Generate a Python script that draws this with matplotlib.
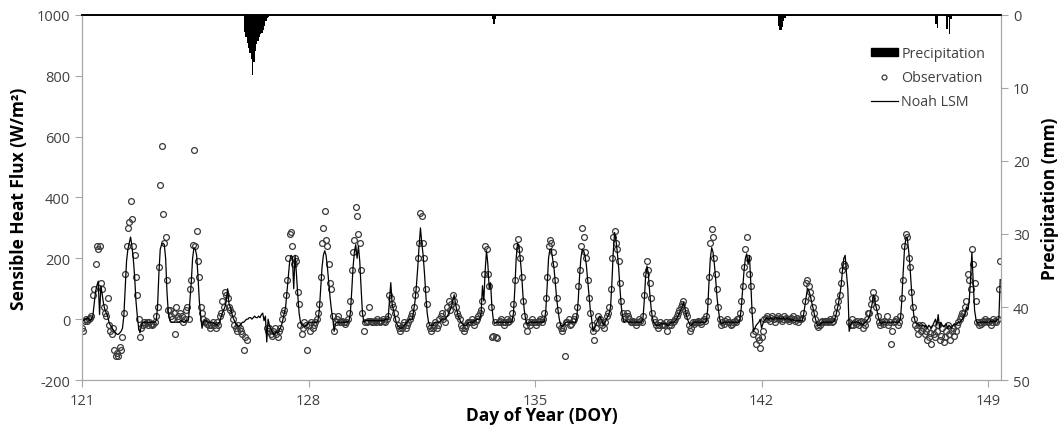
import matplotlib.pyplot as plt
import numpy as np
from matplotlib.lines import Line2D
from matplotlib.patches import Patch

plt.rcParams['font.family'] = ['Open Sans', 'DejaVu Sans']
plt.rcParams['axes.unicode_minus'] = False

nan = np.nan
start_doy = 121

# Noah LSM sensible heat flux (W/m2), hourly, one row per day starting DOY 121
noah_lsm = [
    -5, -5, 0, 0, 5, 0, -5, 0, 10, 50, 90, 110, 125, 15, 110, 80, 50, 30, 20, 10, -10, -20, -25, -35,
    -40, -45, -50, -50, -45, -40, -30, 10, 100, 190, 230, 250, 270, 240, 200, 140, 60, 10, -30, -45, -20, -10, -10, -10,
    -10, -10, -10, -10, -10, -10, -10, -5, 40, 150, 230, 245, 250, 245, 200, 90, 20, 0, -10, -10, -10, -10, -10, -10,
    -10, -5, -5, -10, -10, -5, -5, 0, 60, 120, 200, 235, 230, 210, 140, 60, 10, -30, -10, -5, -5, -10, -10, -10,
    -10, -10, -15, -15, -20, -15, -10, 5, 20, 30, 40, 60, 100, 50, 40, 20, 5, -5, -15, -20, -25, -20, -15, -10,
    -10, -5, 0, 0, 5, 5, 0, 5, 10, 5, 5, 10, 5, 15, 20, -5, 10, -75, 0, -20, -30, -40, -50, -50,
    -40, -45, -40, -30, -20, 0, 20, 40, 90, 140, 190, 210, 205, 100, 210, 150, 80, 20, -10, -20, -20, -25, -20, -20,
    -10, -10, -10, -10, -10, -10, -10, -5, 30, 100, 170, 210, 225, 210, 170, 120, 70, 30, 0, -40, -15, -10, -10, -10,
    -10, -10, -10, -10, -10, -10, -5, 20, 90, 170, 220, 245, 200, 240, 190, 100, 20, -10, -5, -5, -5, -5, -5, -5,
    -5, -5, -5, -5, -5, -5, -5, -5, -5, 0, 0, 0, 60, 120, 50, 30, 10, -10, -20, -25, -30, -30, -25, -20,
    -15, -10, -5, 0, 0, 0, 30, 60, 110, 170, 240, 300, 250, 210, 150, 80, 20, -10, -20, -20, -20, -15, -10, -10,
    -10, -10, -5, 0, 0, 0, 5, 10, 20, 30, 40, 60, 80, 50, 30, 10, 0, -10, -15, -20, -20, -20, -15, -10,
    -10, -10, -10, -5, -5, 0, 0, 0, 20, 110, 60, 160, 225, 180, 100, 120, 40, 0, -15, -10, -10, -10, -10, -10,
    -10, -10, -10, -10, -10, -10, -10, -5, 20, 100, 200, 250, 240, 200, 150, 80, 30, 0, -15, -15, -10, -10, -10, -10,
    -10, -10, -10, -10, -10, -10, -10, -5, 30, 110, 200, 230, 230, 200, 170, 120, 70, 30, 0, -20, -25, -20, -15, -10,
    -10, -10, -10, -10, -10, -10, -10, 10, 60, 140, 200, 230, 225, 210, 180, 130, 80, 30, 0, -40, -30, -20, -10, 0,
    10, 0, -10, -20, -10, 0, 10, 20, 40, 120, 220, 285, 260, 220, 170, 100, 40, 5, -10, -5, -5, -10, -10, -10,
    -10, -10, -10, -10, -10, -10, -10, -10, 0, 60, 140, 175, 150, 90, 40, 5, -10, -15, -20, -20, -20, -15, -15, -15,
    -15, -15, -20, -20, -15, -10, -10, -10, -5, 0, 10, 20, 30, 40, 55, 40, 20, 0, -10, -20, -20, -15, -10, -10,
    -10, -10, -10, -10, -10, -10, -10, -5, 30, 120, 200, 235, 220, 180, 130, 70, 30, 0, -15, -15, -10, -10, -10, -10,
    -10, -10, -10, -10, -10, -10, -10, -10, 0, 40, 100, 160, 200, 215, 180, 210, 120, 20, -40, -30, -20, -15, -10, 0,
    -30, -15, -5, 0, 5, 0, 0, 5, 0, 0, 5, 5, 0, 5, 0, 0, 5, 0, 0, 5, 0, 0, -5, 0,
    -5, -5, -5, -5, -5, -5, -5, 10, 40, 70, 100, 95, 80, 60, 40, 20, 0, -15, -20, -20, -15, -10, -10, -10,
    -10, -10, -10, -10, -10, -10, -5, 10, 30, 50, 80, 110, 160, 200, 210, 150, 100, -40, -20, -10, -10, -10, -10, -10,
    -10, -15, -15, -20, -15, -10, -5, 0, 10, 30, 50, 80, 60, 40, 20, 0, -10, -15, -10, -10, -10, -10, -10, -10,
    -10, -10, -10, -10, -10, -10, -10, 0, 60, 150, 230, 265, 270, 230, 180, 110, 50, 10, -10, -15, -15, -20, -20, -20,
    -20, -25, -20, -30, -20, -25, -30, -20, -10, 0, -20, 15, -30, -10, -20, -25, -20, -15, -30, -20, -25, -30, -20, -15,
    -20, -15, -10, -10, -5, 0, 10, 20, 40, 30, 60, 130, 220, 120, 30, 0, -15, -10, -10, -10, -10, -10, -10, -10,
    -10, -10, -5, -10, -5, -10, -5, 0, 0, 130,
]

# Observed sensible heat flux (W/m2), hourly, same time steps
observation = [
    -30, -40, -5, 0, -5, 0, 5, 10, 80, 100, 180, 240, 230, 240, 120, 100, 40, 20, 10, 70, -20, -40, -50, -30,
    -100, -120, -110, -120, -90, -100, -60, 20, 150, 240, 300, 320, 390, 330, 240, 210, 140, 80, 0, -60, -30, -20, -10, -15,
    -10, -20, -10, -15, -20, -15, -10, 10, 40, 170, 440, 570, 345, 250, 270, 130, 30, 30, 10, 0, 20, -50, 40, 10,
    0, 20, 10, -10, 0, 30, 40, 0, 100, 130, 245, 555, 240, 290, 190, 140, 40, 20, 0, -10, -5, -15, -20, -30,
    -20, -10, -20, -30, -10, -20, 10, 20, 60, 40, 90, 80, 70, 40, 30, 20, 0, -20, -30, -40, -20, -30, -40, -50,
    -100, -60, -70, nan, nan, nan, nan, nan, nan, nan, nan, nan, nan, nan, nan, nan, nan, -30, -40, -30, -50, -55, -40, -30,
    -50, -60, -40, -30, 0, 20, 30, 80, 130, 200, 280, 285, 240, 180, 200, 190, 90, 50, -20, -50, -30, -10, -20, -100,
    -20, -40, -10, -30, -20, -10, 0, 20, 50, 140, 250, 300, 355, 260, 240, 180, 120, 100, 10, -40, -10, 0, 10, -10,
    -10, -5, -10, -15, -10, 0, 20, 60, 160, 220, 260, 370, 340, 280, 250, 160, 20, -40, -10, -10, -5, 40, -5, -10,
    -10, -5, -10, 0, -5, -10, -5, 0, -5, -10, 0, 10, 80, 70, 50, 40, 20, 0, -20, -30, -40, -30, -20, -10,
    -30, -20, -10, 0, 10, 20, 40, 80, 100, 200, 250, 350, 340, 250, 200, 100, 50, -20, -30, -40, -30, -20, -10, -30,
    -20, 0, 10, 20, 0, -10, 20, 40, 60, 30, 50, 80, 60, 40, 20, 10, 0, -20, -30, -40, -30, -20, -10, -10,
    -10, 0, -10, -20, -5, 0, 10, 20, 30, 60, 150, 240, 230, 150, 110, 40, -60, -55, -10, -60, -62, -10, -5, 0,
    -10, -20, -10, 0, -10, -5, 0, 20, 50, 130, 240, 265, 230, 200, 140, 60, 10, -20, -40, -10, -20, -10, 0, -10,
    -10, -20, -10, -5, 0, -10, 0, 20, 70, 140, 240, 260, 250, 220, 180, 130, 70, 30, -20, -30, -40, -30, -120, -10,
    -10, 0, -20, -15, -5, 0, 10, 40, 110, 160, 240, 300, 270, 220, 200, 130, 70, 20, -20, -40, -70, -30, -10, 10,
    0, -10, -20, -30, -10, 10, 20, 40, 100, 200, 270, 290, 250, 230, 190, 120, 60, 20, 0, 10, 20, 10, 0, -10,
    -10, -5, -10, -20, -10, 0, -5, -10, 10, 80, 150, 190, 160, 120, 70, 20, 0, -10, -20, -30, -20, -10, -20, -15,
    -20, -10, -40, -20, -10, -20, -10, -5, 0, 10, 20, 30, 40, 50, 60, 30, 20, 10, -20, -40, -30, -10, -15, -10,
    -10, -5, -10, -15, -5, 0, -5, 10, 60, 140, 250, 295, 270, 200, 150, 100, 40, 0, -20, -10, -15, -5, 0, -10,
    -10, -20, -15, -10, -5, -10, 0, 5, 20, 60, 110, 170, 230, 270, 200, 150, 110, 30, -50, -40, -80, -60, -70, -95,
    -60, -40, 0, 5, 10, 0, -5, 5, 10, 0, -10, 5, 10, 0, 5, -5, 0, 10, 5, 0, -5, 0, 5, 10,
    0, -5, 5, -10, 0, 0, 5, 20, 60, 120, 130, 110, 90, 70, 40, 20, 0, -20, -25, -20, -10, -5, -10, -5,
    -5, -10, -5, 0, -10, -5, 5, 20, 40, 60, 80, 120, 160, 180, 175, nan, nan, -10, -20, 0, -20, -10, -15, -5,
    -20, -10, -5, -30, -10, -20, 0, 20, 20, 50, 70, 90, 70, 40, 10, -10, -20, -10, -15, -5, -10, 10, -20, -10,
    -80, -40, -10, -5, 0, -20, -10, 10, 70, 130, 240, 280, 270, 200, 170, 90, 40, 0, -20, -30, -50, -20, -40, -20,
    -30, -50, -40, -70, -60, -45, -80, -30, -50, -60, -40, -20, -70, -55, -30, -75, -60, -40, -20, -50, -70, -40, -30, -55,
    -40, -20, -10, 0, 10, 20, 20, 40, 60, 150, 130, 100, 230, 180, 120, 60, -10, -20, -10, -15, -5, -10, 0, -5,
    -10, -5, -20, -10, 0, -5, -10, 0, 100, 190,
]

# Hourly precipitation (mm): start of each hour as day of year
precip_doy = [126.0, 126.042, 126.083, 126.125, 126.167, 126.208, 126.25, 126.292, 126.333,
              126.375, 126.417, 126.458, 126.5, 126.542, 126.583, 126.625, 126.667, 126.708, 126.75,
              130.4, 132.6, 133.667, 133.708, 133.75,
              142.5, 142.542, 142.583, 142.625, 142.667, 142.708, 142.75, 142.792, 142.9, 142.95,
              147.375, 147.417, 147.708, 147.75, 147.792, 147.833]
precip_mm = [2.3, 3.0, 3.8, 4.5, 5.2, 6.0, 8.2, 6.5, 5.0,
             4.0, 3.5, 3.0, 2.6, 2.4, 2.0, 1.5, 0.8, 0.4, 0.3,
             0.2, 0.2, 0.6, 1.2, 0.5,
             1.5, 2.1, 2.0, 1.6, 0.8, 0.4, 0.2, 0.1, 0.2, 0.2,
             1.2, 1.8, 1.9, 0.3, 2.6, 0.5]

doy = start_doy + np.arange(len(noah_lsm)) / 24.0

fig = plt.figure(figsize=(10.64, 4.31), dpi=100)
ax = fig.add_axes([0.0771, 0.116, 0.8637, 0.8469])

ax.plot(doy, noah_lsm, color='black', lw=0.9, zorder=3)
ax.plot(doy, observation, ls='none', marker='o', ms=4.2, mfc='none',
        mec='#3a3a3a', mew=0.9, zorder=2)

ax.set_xlim(121, 149.4)
ax.set_ylim(-200, 1000)
ax.set_xticks([121, 128, 135, 142, 149])
ax.set_yticks(range(-200, 1001, 200))

ax2 = ax.twinx()
ax2.bar(precip_doy, precip_mm, width=1 / 24, align='edge', color='black', linewidth=0)
ax2.set_ylim(50, 0)
ax2.set_yticks(range(0, 51, 10))

gray = '#a6a6a6'
for a in (ax, ax2):
    a.spines['left'].set_color(gray)
    a.spines['bottom'].set_color(gray)
    a.spines['right'].set_color(gray)
    a.spines['top'].set_color('black')
    a.spines['top'].set_linewidth(1.2)
    a.tick_params(direction='out', length=5, color=gray, labelcolor='#404040', labelsize=10.5)
ax.tick_params(axis='x', pad=4)

ax.set_ylabel('Sensible Heat Flux (W/m²)', fontsize=12.5, fontweight='bold', labelpad=6)
ax.set_xlabel('Day of Year (DOY)', fontsize=12.5, fontweight='bold', labelpad=-1)
ax2.set_ylabel('Precipitation (mm)', fontsize=12.5, fontweight='bold', labelpad=8)

handles = [Patch(facecolor='black', edgecolor='black'),
           Line2D([], [], ls='none', marker='o', ms=3.5, mfc='none', mec='#3a3a3a', mew=0.9),
           Line2D([], [], color='black', lw=0.9)]
ax2.legend(handles, ['Precipitation', 'Observation', 'Noah LSM'],
           loc='upper right', bbox_to_anchor=(0.938, 0.92), bbox_transform=fig.transFigure,
           frameon=False, fontsize=10.3, handlelength=1.9, handleheight=0.45,
           handletextpad=0.25, labelspacing=0.62, labelcolor='#404040')

fig.savefig('out.png', dpi=100)
